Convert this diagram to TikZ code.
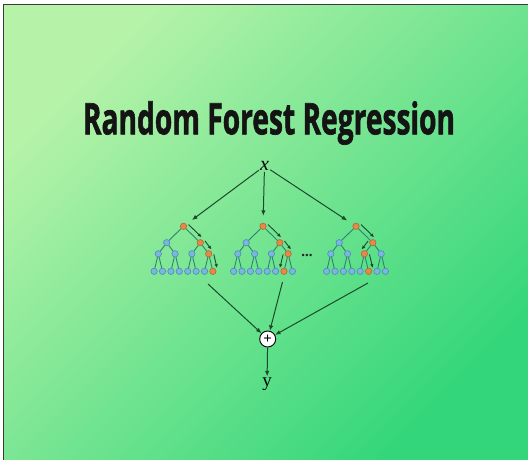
\documentclass[tikz,border=0pt]{standalone}
\usepackage{fontspec}
\setmainfont{Liberation Serif}
\newfontfamily\titlefont[FakeBold=1.6]{Open Sans}
\usetikzlibrary{calc,arrows.meta}
\definecolor{bgA}{HTML}{B6F3A9}
\definecolor{bgB}{HTML}{33D67A}
\definecolor{framegray}{HTML}{3A3A3A}
\definecolor{linecol}{HTML}{1C4A29}
\definecolor{treecol}{HTML}{2E8270}
\definecolor{bfill}{HTML}{7CB6DC}
\definecolor{bdraw}{HTML}{4A8BBE}
\definecolor{ofill}{HTML}{E3894A}
\definecolor{odraw}{HTML}{B8662E}
\tikzset{
  bnode/.style={circle, inner sep=0pt, minimum size=6.4pt, fill=bfill, draw=bdraw, line width=0.6pt},
  onode/.style={circle, inner sep=0pt, minimum size=6.4pt, fill=ofill, draw=odraw, line width=0.6pt},
  tedge/.style={draw=treecol, line width=0.9pt},
  arr/.style={draw=linecol, line width=1pt, -{Latex[length=5.5pt,width=4.5pt]}},
  parrow/.style={draw=linecol, line width=0.9pt, -{Latex[length=4pt,width=3.5pt]}},
}
\newcommand\rftree[5]{%
  \node[onode] (#1r) at (#2,226.3) {};
  \foreach \i in {1,2}{%
    \ifnum\i=#3\relax\tikzset{cur/.style={onode}}\else\tikzset{cur/.style={bnode}}\fi
    \node[cur] (#1a\i) at ({#2+(\i-1.5)*33.6},242.7) {};
    \draw[tedge] (#1r) -- (#1a\i);
  }
  \foreach \i in {1,...,4}{%
    \pgfmathtruncatemacro\p{(\i+1)/2}
    \ifnum\i=#4\relax\tikzset{cur/.style={onode}}\else\tikzset{cur/.style={bnode}}\fi
    \node[cur] (#1b\i) at ({#2+(\i-2.5)*16.8},253.8) {};
    \draw[tedge] (#1a\p) -- (#1b\i);
  }
  \foreach \i in {1,...,8}{%
    \pgfmathtruncatemacro\p{(\i+1)/2}
    \ifnum\i=#5\relax\tikzset{cur/.style={onode}}\else\tikzset{cur/.style={bnode}}\fi
    \node[cur] (#1c\i) at ({#2+(\i-4.5)*8.4},271.3) {};
    \draw[tedge] (#1b\p) -- (#1c\i);
  }
}
\newcommand\parr[3]{%
  \draw[parrow] ($(#1)!0.1!(#2)!4.8pt!#3:(#2)$) -- ($(#1)!0.88!(#2)!4.8pt!#3:(#2)$);
}
\begin{document}
\begin{tikzpicture}[x=1pt,y=-1pt]
\useasboundingbox (0,0) rectangle (528,459);
\fill[white] (0,0) rectangle (528,459);
\shade[top color=bgA, bottom color=bgB, shading angle=45] (3.5,4.5) rectangle (531,462);
\draw[framegray, line width=1.5pt] (3.5,462) -- (3.5,4.5) -- (531,4.5);

\node[anchor=base, inner sep=0pt, text=black!92] (title) at (269,134.3)
  {\resizebox{372pt}{33pt}{\titlefont\bfseries Random Forest Regression}};

\node[inner sep=1pt, font=\fontsize{20}{20}\selectfont\itshape] (x) at (264.5,166) {x};

\rftree{t1}{183.5}{2}{4}{8}
\rftree{t2}{263}{2}{4}{7}
\rftree{t3}{356}{2}{3}{6}

\parr{t1r}{t1a2}{90}
\parr{t1a2}{t1b4}{90}
\parr{t1b4}{t1c8}{90}
\parr{t2r}{t2a2}{90}
\parr{t2a2}{t2b4}{90}
\parr{t2b4}{t2c7}{-90}
\parr{t3r}{t3a2}{90}
\parr{t3a2}{t3b3}{-90}
\parr{t3b3}{t3c6}{90}

\node[font=\fontsize{15}{15}\selectfont\bfseries, text=black!85, inner sep=0pt, anchor=base] (dots) at (307,256.5) {...};

\draw[arr, shorten >=7pt] (x) -- (t1r);
\draw[arr, shorten >=7pt] (x) -- (t2r);
\draw[arr, shorten >=7pt] (x) -- (t3r);

\node[circle, fill=white, draw=black, line width=0.9pt, minimum size=16pt, inner sep=0pt,
      font=\fontsize{15}{15}\selectfont\bfseries] (plus) at (267.7,339) {+};

\coordinate (o1) at (208,284);
\coordinate (o2) at (282.5,282);
\coordinate (o3) at (368,283);
\draw[arr] (o1) -- (plus);
\draw[arr] (o2) -- (plus);
\draw[arr] (o3) -- (plus);

\node[font=\fontsize{19}{19}\selectfont, inner sep=1pt] (y) at (267,384) {y};
\draw[arr] (plus) -- (y);
\end{tikzpicture}
\end{document}
